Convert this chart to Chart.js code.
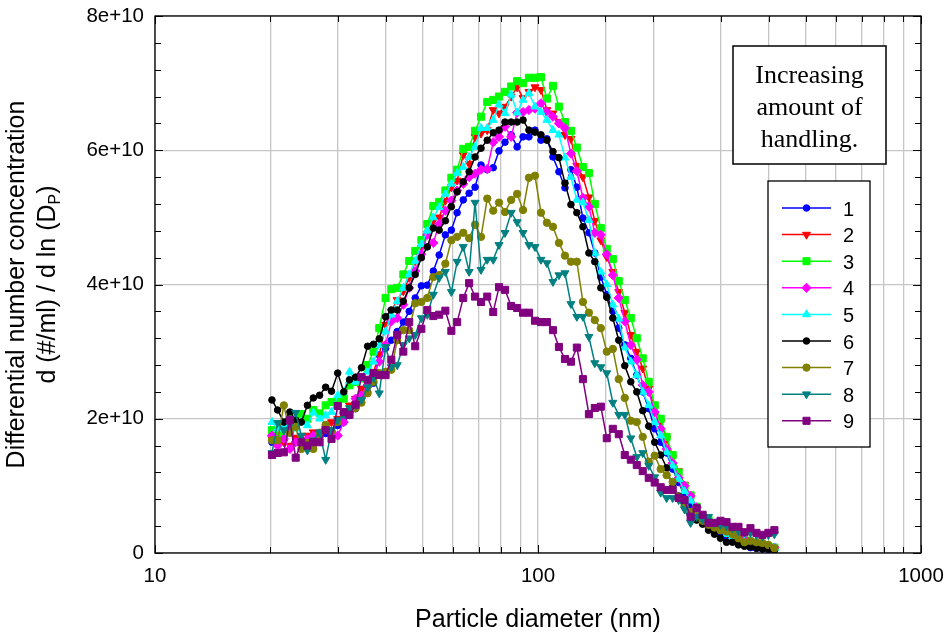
<!DOCTYPE html>
<html><head><meta charset="utf-8">
<script src="https://cdn.jsdelivr.net/npm/chart.js@4.4.1/dist/chart.umd.min.js"></script>
<style>html,body{margin:0;padding:0;background:#fff;}canvas{display:block;}</style>
</head><body>
<canvas id="c" width="946" height="635"></canvas>
<script>
// ---- DATA ----
const UNIT = 1e10; // values below are in units of 1e10 #/ml
const diameters = [20.2, 20.9, 21.7, 22.5, 23.3, 24.1, 25.0, 25.9, 26.9, 27.9, 28.9, 30.0, 31.1, 32.2, 33.4, 34.6, 35.9, 37.2, 38.5, 40.0, 41.4, 42.9, 44.5, 46.1, 47.8, 49.6, 51.4, 53.3, 55.2, 57.3, 59.4, 61.5, 63.8, 66.1, 68.5, 71.0, 73.7, 76.4, 79.1, 82.0, 85.1, 88.2, 91.4, 94.7, 98.2, 101.8, 105.5, 109.4, 113.4, 117.6, 121.9, 126.3, 131.0, 135.8, 140.7, 145.9, 151.2, 156.8, 162.5, 168.5, 174.7, 181.1, 187.7, 194.6, 201.7, 209.1, 216.7, 224.7, 232.9, 241.4, 250.3, 259.5, 269.0, 278.8, 289.0, 299.6, 310.6, 322.0, 333.8, 346.0, 358.7, 371.8, 385.4, 399.5, 414.2];

const series1 = [1.65,1.70,1.72,1.79,1.70,1.68,1.65,1.72,1.70,1.78, 1.82,1.90,1.95,2.05,2.15,2.30,2.40,2.53,2.95,3.05, 3.17,3.30,3.44,3.60,3.80,3.98,3.99,4.20,4.44,4.74, 4.81,5.07,5.26,5.36,5.45,5.78,5.71,5.74,5.99,6.12, 6.23,6.05,6.20,6.20,6.30,6.15,6.17,5.90,5.68,5.44, 5.71,5.45,4.99,4.77,4.47,4.11,3.85,3.60,3.35,3.10, 2.90,2.65,2.40,2.15,1.85,1.65,1.49,1.25,1.05,0.85, 0.72,0.58,0.48,0.40,0.33,0.28,0.22,0.18,0.15,0.12, 0.08,0.07,0.06,0.05,0.05];
const series2 = [1.70,1.62,1.65,1.60,1.72,1.58,1.75,1.80,1.70,1.85, 1.95,2.00,2.05,2.20,2.30,2.45,2.55,2.70,2.95,3.40, 3.60,3.77,3.90,4.10,4.35,4.55,4.75,4.95,5.00,5.25, 5.45,5.55,5.93,5.80,6.20,6.25,6.30,6.60,6.55,6.65, 6.80,6.94,6.78,6.87,6.94,6.90,6.60,6.55,6.42,6.23, 6.17,5.77,5.60,5.30,4.95,4.66,4.41,4.19,3.89,3.58, 3.25,3.00,2.75,2.45,2.15,1.95,1.70,1.42,1.22,1.02, 0.85,0.68,0.52,0.45,0.40,0.35,0.30,0.26,0.22,0.18, 0.15,0.12,0.10,0.08,0.07];
const series3 = [1.83,1.78,1.75,1.85,1.92,2.07,2.00,2.13,2.08,2.20, 2.25,2.25,2.30,2.50,2.55,2.60,2.80,3.00,3.35,3.80, 3.93,3.95,4.15,4.35,4.50,4.66,4.90,5.17,5.23,5.40, 5.59,5.71,6.02,6.05,6.29,6.50,6.72,6.75,6.80,6.87, 6.95,7.03,7.00,7.08,7.08,7.09,6.77,6.96,6.65,6.42, 6.29,6.04,5.75,5.66,5.20,4.84,4.53,4.38,4.05,3.77, 3.50,3.20,2.90,2.55,2.20,2.00,1.73,1.46,1.20,1.00, 0.86,0.69,0.55,0.49,0.42,0.38,0.33,0.28,0.25,0.20, 0.17,0.14,0.12,0.10,0.08];
const series4 = [1.75,1.60,1.70,1.55,1.65,1.62,1.70,1.75,1.78,1.85, 1.80,1.75,1.95,2.10,2.30,2.35,2.50,2.65,2.85,3.10, 3.45,3.50,3.70,3.95,4.20,4.45,4.74,4.62,4.90,5.10, 5.25,5.40,5.50,5.60,5.65,5.71,5.72,6.12,6.20,6.35, 6.20,6.56,6.57,6.60,6.62,6.70,6.57,6.50,6.40,6.33, 5.95,5.69,5.29,5.16,4.77,4.74,4.45,4.14,3.80,3.45, 3.10,2.88,2.50,2.40,2.10,1.85,1.55,1.34,1.12,1.00, 0.85,0.68,0.55,0.48,0.42,0.36,0.32,0.27,0.24,0.20, 0.16,0.13,0.12,0.10,0.08];
const series5 = [1.95,1.85,1.90,1.80,1.85,1.95,1.90,2.09,2.00,2.05, 2.10,2.35,2.40,2.70,2.55,2.60,2.70,2.85,3.10,3.30, 3.55,3.75,3.95,4.15,4.35,4.60,4.80,5.00,5.15,5.35, 5.50,5.66,5.75,5.90,6.05,6.33,6.33,6.45,6.68,6.55, 6.83,6.56,6.75,6.85,6.65,6.57,6.45,6.30,6.23,5.89, 5.60,5.26,5.22,4.96,4.47,4.19,4.00,3.70,3.49,3.06, 2.85,2.65,2.40,2.20,1.95,1.75,1.50,1.30,1.10,0.92, 0.78,0.62,0.52,0.45,0.38,0.33,0.28,0.24,0.20,0.17, 0.14,0.11,0.10,0.08,0.07];
const series6 = [2.28,2.13,1.95,2.10,1.98,1.95,2.20,2.31,2.35,2.47, 2.41,2.68,2.40,2.58,2.62,2.76,3.08,3.11,3.19,3.52, 3.62,3.62,3.75,3.95,4.15,4.40,4.56,4.84,4.81,4.95, 5.16,5.38,5.53,5.68,5.90,6.03,6.15,6.26,6.30,6.42, 6.42,6.42,6.45,6.30,6.27,6.23,6.15,5.98,5.89,5.51, 5.19,5.07,4.86,4.47,4.34,3.95,3.81,3.50,3.17,2.79, 2.55,2.40,2.12,1.89,1.65,1.46,1.27,0.98,0.85,0.70, 0.60,0.49,0.43,0.34,0.28,0.22,0.16,0.16,0.12,0.10, 0.09,0.07,0.06,0.06,0.04];
const series7 = [1.68,1.68,2.20,1.79,1.88,1.55,1.64,1.55,1.79,1.91, 1.82,1.95,2.10,2.13,2.16,2.24,2.38,2.55,2.68,2.70, 2.73,3.17,3.32,3.32,3.72,3.74,3.80,4.11,4.14,4.31, 4.66,4.71,4.77,4.69,4.89,4.71,5.28,5.10,5.22,5.08, 5.26,5.35,5.11,5.59,5.62,5.07,4.92,4.86,4.62,4.43, 4.34,4.34,3.74,3.58,3.47,3.35,3.00,3.04,2.59,2.31, 1.97,1.95,1.73,1.36,1.45,1.25,1.16,1.06,0.83,0.70, 0.61,0.55,0.48,0.42,0.38,0.34,0.32,0.28,0.22,0.16, 0.18,0.16,0.15,0.12,0.07];
const series8 = [1.49,1.94,1.83,1.91,2.09,1.75,1.53,1.68,1.80,1.39, 1.83,1.98,2.06,2.16,2.20,2.28,2.47,2.61,2.38,3.07, 2.77,2.80,3.10,3.20,3.25,3.50,3.55,3.85,4.10,4.19, 3.89,4.34,4.56,4.19,5.22,4.22,4.37,4.37,4.59,4.77, 5.07,4.93,4.77,4.59,4.56,4.37,4.32,4.04,4.14,4.17, 3.71,3.52,3.52,3.22,2.83,2.77,2.68,2.24,2.06,2.06, 1.71,1.43,1.49,1.30,1.13,0.90,0.82,0.82,0.79,0.65, 0.45,0.54,0.50,0.54,0.45,0.42,0.40,0.37,0.33,0.31, 0.30,0.27,0.25,0.27,0.28];
const series9 = [1.46,1.49,1.50,1.98,1.42,1.65,1.60,1.65,1.65,1.83, 1.70,2.19,2.10,2.06,2.21,2.62,2.58,2.68,2.65,2.65, 2.88,3.25,3.00,3.44,3.08,3.34,3.62,3.53,3.55,3.61, 3.31,3.44,3.80,4.02,3.82,3.74,3.82,3.59,3.96,3.92, 3.68,3.65,3.58,3.58,3.46,3.44,3.44,3.32,3.07,2.89, 2.85,3.06,2.59,2.07,2.16,2.18,1.71,1.85,1.77,1.46, 1.39,1.31,1.22,1.12,1.05,0.98,0.94,0.94,0.82,0.79, 0.54,0.67,0.57,0.45,0.45,0.48,0.46,0.39,0.39,0.31, 0.37,0.30,0.27,0.30,0.34];

const seriesLabels = ['1','2','3','4','5','6','7','8','9'];
const allSeries = [series1,series2,series3,series4,series5,series6,series7,series8,series9];
const xLabelValues = [10, 100, 1000];
const yMajorStep = 2e10;
const yMinorStep = 4e9;
const annotationLines = ['Increasing', 'amount of', 'handling.'];
const yTitleLine1 = 'Differential number concentration';
const yTitleLine2Main = 'd (#/ml) / d ln (D';
const yTitleLine2Sub = 'P';
const yTitleLine2End = ')';
const xTitle = 'Particle diameter (nm)';

// ---- STYLES ----
const colors = ['#0000ff','#ff0000','#00ff00','#ff00ff','#00ffff','#000000','#808000','#008080','#800080'];
const pStyles = ['circle','triangle','rect','rectRot','triangle','circle','circle','triangle','rect'];
const pRot = [0,180,0,0,0,0,0,180,0];
const pRad = [3.3,4.6,5,4.6,4.6,3.3,3.7,4.6,5];
const SANS = "'Liberation Sans', Arial, sans-serif";
const SERIF = "'Liberation Serif', 'Times New Roman', serif";

Chart.defaults.font.family = SANS;
Chart.defaults.color = '#000';

const datasets = allSeries.map((s, i) => ({
  label: seriesLabels[i],
  data: s.map((v, k) => ({ x: diameters[k], y: v * UNIT })),
  borderColor: colors[i],
  backgroundColor: colors[i],
  pointBackgroundColor: colors[i],
  pointBorderColor: colors[i],
  pointStyle: pStyles[i],
  pointRotation: pRot[i],
  pointRadius: pRad[i],
  pointBorderWidth: 1,
  borderWidth: 1.5,
  tension: 0,
  order: 9 - i
}));

function isMajorY(v){ return Math.abs(v / yMajorStep - Math.round(v / yMajorStep)) < 1e-6; }
function isDecade(v){ const l = Math.log10(v); return Math.abs(l - Math.round(l)) < 1e-9; }

function fallbackPoint(ctx, style, rot, r, x, y){
  ctx.beginPath();
  if (style === 'circle') { ctx.arc(x, y, r, 0, Math.PI*2); }
  else if (style === 'rect') { const s = r*Math.SQRT1_2; ctx.rect(x-s, y-s, 2*s, 2*s); }
  else if (style === 'rectRot') { ctx.moveTo(x, y-r); ctx.lineTo(x+r, y); ctx.lineTo(x, y+r); ctx.lineTo(x-r, y); ctx.closePath(); }
  else { const d = rot ? -1 : 1; ctx.moveTo(x, y - d*r); ctx.lineTo(x + r*0.866, y + d*r*0.5); ctx.lineTo(x - r*0.866, y + d*r*0.5); ctx.closePath(); }
  ctx.fill(); ctx.stroke();
}

const extras = {
  id: 'extras',
  afterDraw(chart) {
    const { ctx, chartArea: { left, right, top, bottom }, scales: { x, y } } = chart;
    ctx.save();
    ctx.strokeStyle = '#000'; ctx.lineWidth = 1;
    ctx.beginPath();
    x.ticks.forEach(t => {
      const px = Math.round(x.getPixelForValue(t.value)) + 0.5;
      const L = isDecade(t.value) ? 8 : 6;
      ctx.moveTo(px, bottom); ctx.lineTo(px, bottom - L);
      ctx.moveTo(px, top); ctx.lineTo(px, top + L);
    });
    y.ticks.forEach(t => {
      const py = Math.round(y.getPixelForValue(t.value)) + 0.5;
      const L = isMajorY(t.value) ? 8 : 6;
      ctx.moveTo(left, py); ctx.lineTo(left + L, py);
      ctx.moveTo(right, py); ctx.lineTo(right - L, py);
    });
    ctx.stroke();
    ctx.lineWidth = 1.3;
    ctx.strokeRect(left, top, right - left, bottom - top);

    ctx.fillStyle = '#000';
    ctx.font = '25px ' + SANS;
    ctx.textAlign = 'center'; ctx.textBaseline = 'alphabetic';
    ctx.fillText(xTitle, (left + right) / 2, 627);
    const cy = (top + bottom) / 2;
    ctx.save();
    ctx.translate(24, cy); ctx.rotate(-Math.PI / 2);
    ctx.fillText(yTitleLine1, 0, 0);
    ctx.restore();
    ctx.save();
    ctx.translate(55, cy); ctx.rotate(-Math.PI / 2);
    ctx.textAlign = 'left';
    ctx.font = '25px ' + SANS;
    const w1 = ctx.measureText(yTitleLine2Main).width;
    const w3 = ctx.measureText(yTitleLine2End).width;
    ctx.font = '16px ' + SANS;
    const w2 = ctx.measureText(yTitleLine2Sub).width;
    const tot = w1 + w2 + w3;
    let xx = -tot / 2;
    ctx.font = '25px ' + SANS; ctx.fillText(yTitleLine2Main, xx, 0); xx += w1;
    ctx.font = '16px ' + SANS; ctx.fillText(yTitleLine2Sub, xx, 5); xx += w2;
    ctx.font = '25px ' + SANS; ctx.fillText(yTitleLine2End, xx, 0);
    ctx.restore();

    ctx.fillStyle = '#fff'; ctx.fillRect(733, 46, 153, 118);
    ctx.strokeStyle = '#000'; ctx.lineWidth = 1.5; ctx.strokeRect(733, 46, 153, 118);
    ctx.fillStyle = '#000'; ctx.font = '26px ' + SERIF; ctx.textAlign = 'center';
    annotationLines.forEach((t, i) => ctx.fillText(t, 809.5, 83 + i * 32));

    ctx.fillStyle = '#fff'; ctx.fillRect(768, 181, 102, 266);
    ctx.strokeStyle = '#000'; ctx.lineWidth = 1.3; ctx.strokeRect(768, 181, 102, 266);
    chart.data.datasets.forEach((ds, i) => {
      const ry = 208 + i * 26.6;
      ctx.strokeStyle = ds.borderColor; ctx.lineWidth = 1.5;
      ctx.beginPath(); ctx.moveTo(782, ry); ctx.lineTo(831, ry); ctx.stroke();
      ctx.fillStyle = ds.pointBackgroundColor; ctx.strokeStyle = ds.pointBorderColor; ctx.lineWidth = 1;
      if (Chart.helpers && Chart.helpers.drawPoint) {
        Chart.helpers.drawPoint(ctx, { pointStyle: ds.pointStyle, rotation: ds.pointRotation, radius: ds.pointRadius, borderWidth: 1 }, 806.5, ry);
      } else {
        fallbackPoint(ctx, ds.pointStyle, ds.pointRotation, ds.pointRadius, 806.5, ry);
      }
      ctx.fillStyle = '#000'; ctx.font = '20px ' + SANS; ctx.textAlign = 'left'; ctx.textBaseline = 'alphabetic';
      ctx.fillText(ds.label, 843, ry + 7.5);
    });
    ctx.restore();
  }
};

new Chart(document.getElementById('c'), {
  type: 'line',
  data: { datasets },
  plugins: [extras],
  options: {
    responsive: false,
    animation: false,
    devicePixelRatio: 1,
    layout: { padding: { top: 16, right: 25, left: 0, bottom: 0 } },
    plugins: { legend: { display: false }, tooltip: { enabled: false } },
    scales: {
      x: {
        type: 'logarithmic', min: 10, max: 1000,
        afterFit(s) { s.height = 82; s.paddingLeft = 0; s.paddingRight = 0; },
        grid: { color: '#c6c6c6', lineWidth: 1.3, drawTicks: false },
        border: { display: false },
        ticks: {
          autoSkip: false, maxRotation: 0, minRotation: 0, padding: 11,
          font: { size: 20.5 }, color: '#000',
          callback(v) { return xLabelValues.some(d => Math.abs(d - v) < 1e-6) ? String(Math.round(v)) : ''; }
        }
      },
      y: {
        type: 'linear', min: 0, max: 8e10,
        afterFit(s) { s.width = 155; s.paddingTop = 0; s.paddingBottom = 0; },
        grid: { color: c => (c.tick && isMajorY(c.tick.value)) ? '#c6c6c6' : 'rgba(0,0,0,0)', lineWidth: 1.3, drawTicks: false },
        border: { display: false },
        ticks: {
          stepSize: yMinorStep, autoSkip: false, maxTicksLimit: 100, padding: 11,
          font: { size: 20.5 }, color: '#000',
          callback(v) { if (!isMajorY(v)) return ''; const n = Math.round(v / UNIT); return n === 0 ? '0' : n + 'e+10'; }
        }
      }
    }
  }
});
</script>
</body></html>
